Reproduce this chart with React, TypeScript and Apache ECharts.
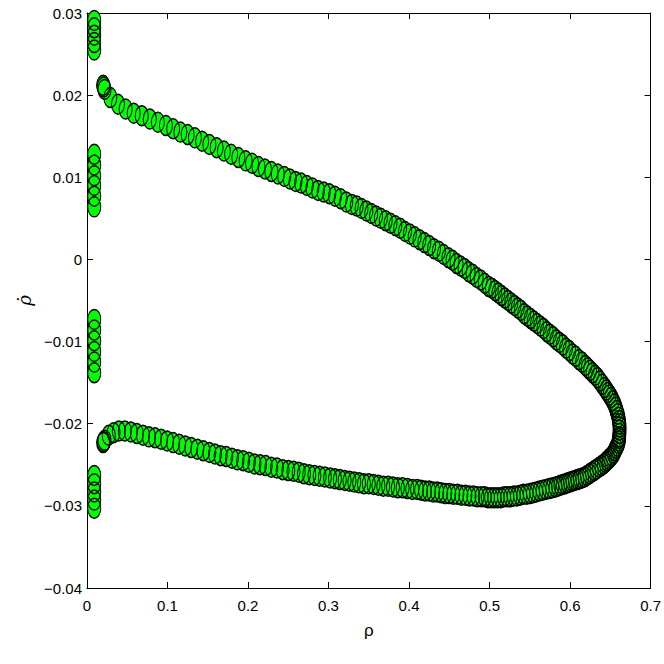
import { useEffect, useRef } from "react";
import * as echarts from "echarts";

// [rho, rhoDot] pairs
const upperBranch: number[][] = [
  [0.0200, 0.0212], [0.0208, 0.0210], [0.0218, 0.0207], [0.0290, 0.0197], [0.0385, 0.0189],
  [0.048, 0.0183], [0.058, 0.0178], [0.068, 0.0175], [0.078, 0.0171], [0.088, 0.0167], [0.098, 0.0163],
  [0.107, 0.0159], [0.116, 0.0155], [0.125, 0.0152], [0.134, 0.0148], [0.143, 0.0144], [0.152, 0.0140],
  [0.161, 0.0136], [0.170, 0.0132], [0.179, 0.0128], [0.188, 0.0124], [0.197, 0.0120],
  [0.205, 0.0117], [0.213, 0.0113], [0.221, 0.0110], [0.229, 0.0107], [0.237, 0.0104], [0.245, 0.0101],
  [0.252, 0.0098], [0.259, 0.0095], [0.266, 0.0093], [0.273, 0.0090], [0.280, 0.0087], [0.287, 0.0084],
  [0.294, 0.0082], [0.301, 0.0080], [0.308, 0.0077], [0.315, 0.0074], [0.322, 0.0070], [0.329, 0.0067],
  [0.335, 0.0065], [0.341, 0.0062], [0.347, 0.0059], [0.353, 0.0056], [0.359, 0.0053], [0.365, 0.0050],
  [0.371, 0.0047], [0.377, 0.0044], [0.383, 0.0041], [0.389, 0.0038], [0.395, 0.0034], [0.401, 0.0031],
  [0.407, 0.00275], [0.413, 0.0024], [0.419, 0.00205], [0.425, 0.0017], [0.431, 0.0013], [0.437, 0.0010],
  [0.443, 0.0006], [0.449, 0.0002],
  [0.454, -0.0001], [0.459, -0.0005], [0.464, -0.0008], [0.469, -0.0011], [0.474, -0.0015],
  [0.479, -0.0018], [0.484, -0.0022], [0.489, -0.0025], [0.494, -0.0029], [0.499, -0.0033],
  [0.503, -0.0035], [0.507, -0.0038], [0.511, -0.0041], [0.515, -0.0044], [0.519, -0.0047],
  [0.523, -0.0050], [0.527, -0.0053], [0.531, -0.0056], [0.535, -0.0059], [0.539, -0.0062],
  [0.543, -0.0066], [0.547, -0.0069], [0.551, -0.0072], [0.555, -0.0075], [0.559, -0.0078],
  [0.563, -0.0081], [0.567, -0.0084], [0.571, -0.0088], [0.575, -0.0091], [0.579, -0.0094],
  [0.583, -0.0098], [0.587, -0.0101], [0.591, -0.0104], [0.595, -0.0108], [0.599, -0.0111],
  [0.603, -0.0115], [0.607, -0.0118], [0.611, -0.0122], [0.615, -0.0125], [0.619, -0.0129],
  [0.622, -0.0132], [0.625, -0.0135], [0.628, -0.0138], [0.631, -0.0141], [0.634, -0.0144],
  [0.637, -0.0148], [0.640, -0.0152], [0.643, -0.0156],
  [0.645, -0.0159], [0.647, -0.0162], [0.649, -0.0165], [0.651, -0.0168], [0.653, -0.0172], [0.655, -0.0176],
  [0.6565, -0.0180], [0.6578, -0.0184], [0.6590, -0.0188], [0.6600, -0.0192], [0.6607, -0.0196],
  [0.6612, -0.0200], [0.6615, -0.0204], [0.6615, -0.0208], [0.6613, -0.0212], [0.6610, -0.0216],
];

const lowerBranch: number[][] = [
  [0.0200, -0.0223], [0.0208, -0.0222], [0.0218, -0.0220], [0.0270, -0.0214], [0.0330, -0.0211], [0.0395, -0.0209],
  [0.047, -0.0209], [0.0545, -0.0210], [0.062, -0.0212], [0.0695, -0.0214], [0.077, -0.0216], [0.0845, -0.0217],
  [0.092, -0.0219], [0.0995, -0.0221], [0.107, -0.0223], [0.1145, -0.0225], [0.122, -0.0227], [0.1295, -0.0229],
  [0.137, -0.0231], [0.1445, -0.0233], [0.152, -0.0235],
  [0.159, -0.0237], [0.166, -0.0239], [0.173, -0.0240], [0.180, -0.0242], [0.187, -0.0244], [0.194, -0.0245],
  [0.201, -0.0247], [0.208, -0.0249], [0.215, -0.0250], [0.222, -0.0251], [0.229, -0.0253], [0.236, -0.0254],
  [0.243, -0.0256], [0.250, -0.0257],
  [0.2565, -0.0258], [0.263, -0.0259], [0.2695, -0.0261], [0.276, -0.0262], [0.2825, -0.0263], [0.289, -0.0264],
  [0.2955, -0.0265], [0.302, -0.0266],
  [0.308, -0.0267], [0.314, -0.0268], [0.320, -0.0269], [0.326, -0.0270], [0.332, -0.0271], [0.338, -0.0272],
  [0.344, -0.0273], [0.350, -0.0273], [0.356, -0.0274], [0.362, -0.0275], [0.368, -0.0276], [0.374, -0.0276],
  [0.380, -0.0277], [0.386, -0.0278], [0.392, -0.0278], [0.398, -0.0279], [0.404, -0.0280], [0.410, -0.0280],
  [0.415, -0.0281], [0.420, -0.0282], [0.425, -0.0282], [0.430, -0.0283], [0.435, -0.0283], [0.440, -0.0284],
  [0.445, -0.0285], [0.450, -0.0285], [0.455, -0.0286], [0.460, -0.0286], [0.465, -0.0287], [0.470, -0.0287],
  [0.475, -0.0288], [0.480, -0.0288], [0.485, -0.0289], [0.490, -0.0289],
  [0.494, -0.0289], [0.498, -0.0290], [0.502, -0.0290], [0.506, -0.0290], [0.510, -0.0290], [0.514, -0.0290],
  [0.518, -0.0289], [0.522, -0.0289], [0.526, -0.0289], [0.530, -0.0288], [0.534, -0.0288], [0.538, -0.0287],
  [0.542, -0.0286], [0.546, -0.0286], [0.550, -0.0285], [0.554, -0.0284], [0.558, -0.0283], [0.562, -0.0282],
  [0.566, -0.0281], [0.570, -0.0280], [0.574, -0.0279], [0.578, -0.0278], [0.582, -0.0277],
  [0.585, -0.0276], [0.588, -0.0275], [0.591, -0.0274], [0.594, -0.0273], [0.597, -0.0272], [0.600, -0.0271],
  [0.603, -0.0270], [0.606, -0.0269], [0.609, -0.0268], [0.612, -0.0267], [0.615, -0.0266], [0.618, -0.0265],
  [0.621, -0.0263], [0.624, -0.0261], [0.627, -0.0259], [0.630, -0.0257], [0.633, -0.0255], [0.636, -0.0253],
  [0.639, -0.0251], [0.642, -0.0249],
  [0.644, -0.0247], [0.646, -0.0245], [0.648, -0.0243], [0.650, -0.0241], [0.652, -0.0239], [0.654, -0.0236],
  [0.6555, -0.0233], [0.657, -0.0230], [0.6585, -0.0227], [0.6597, -0.0224], [0.6605, -0.0221], [0.6610, -0.0218],
];

const leftClusters: number[][] = [
  [0.009, 0.0291], [0.009, 0.0282], [0.009, 0.0273], [0.009, 0.0264], [0.009, 0.0255],
  [0.009, 0.0128], [0.009, 0.0115], [0.009, 0.0102], [0.009, 0.0090], [0.009, 0.0077], [0.009, 0.0064],
  [0.009, -0.0073], [0.009, -0.0086], [0.009, -0.0099], [0.009, -0.0112], [0.009, -0.0125], [0.009, -0.0138],
  [0.009, -0.0263], [0.009, -0.0273], [0.009, -0.0283], [0.009, -0.0293], [0.009, -0.0303],
];

const xTickLabels = ["0", "0.1", "0.2", "0.3", "0.4", "0.5", "0.6", "0.7"];
const yTickLabels = ["\u22120.04", "\u22120.03", "\u22120.02", "\u22120.01", "0", "0.01", "0.02", "0.03"];

const FONT = "'Liberation Sans', Arial, sans-serif";
const ELLIPSE =
  "path://M0,-1 C0.5523,-1 1,-0.5523 1,0 C1,0.5523 0.5523,1 0,1 C-0.5523,1 -1,0.5523 -1,0 C-1,-0.5523 -0.5523,-1 0,-1 Z";

export default function App() {
  const ref = useRef<HTMLDivElement>(null);
  useEffect(() => {
    if (!ref.current) return;
    const chart = echarts.init(ref.current, undefined, { renderer: "svg" });
    const xLabel = (v: number) => xTickLabels[Math.round(v * 10)] ?? "";
    const yLabel = (v: number) => yTickLabels[Math.round(v * 100) + 4] ?? "";
    const axisLine = { show: true, onZero: false, lineStyle: { color: "#000", width: 1 } };
    const tick = { show: true, inside: true, length: 6, lineStyle: { color: "#000", width: 1 } };
    const fillSeries = (data: number[][]) => ({
      type: "scatter",
      data,
      symbol: ELLIPSE,
      symbolSize: [13, 20],
      clip: false,
      itemStyle: { color: "#00ff00", borderWidth: 0, opacity: 1 },
      emphasis: { disabled: true },
    });
    const edgeSeries = (data: number[][]) => ({
      type: "scatter",
      data,
      symbol: ELLIPSE,
      symbolSize: [13, 20],
      clip: false,
      itemStyle: { color: "rgba(0,0,0,0)", borderColor: "#000", borderWidth: 1.2, opacity: 1 },
      emphasis: { disabled: true },
    });
    chart.setOption({
      animation: false,
      backgroundColor: "#fff",
      grid: { left: 87, right: 11, top: 13, bottom: 76, containLabel: false },
      xAxis: [
        {
          type: "value",
          min: 0,
          max: 0.7,
          interval: 0.1,
          position: "bottom",
          name: "\u03c1",
          nameLocation: "middle",
          nameGap: 34,
          nameTextStyle: { fontFamily: FONT, fontSize: 17, color: "#000" },
          axisLine,
          axisTick: tick,
          splitLine: { show: false },
          axisLabel: { formatter: xLabel, fontFamily: FONT, fontSize: 15, color: "#000", margin: 10 },
        },
        {
          type: "value",
          min: 0,
          max: 0.7,
          interval: 0.1,
          position: "top",
          axisLine,
          axisTick: tick,
          splitLine: { show: false },
          axisLabel: { show: false },
        },
      ],
      yAxis: [
        {
          type: "value",
          min: -0.04,
          max: 0.03,
          interval: 0.01,
          position: "left",
          name: "\u03c1\u0307",
          nameLocation: "middle",
          nameRotate: 90,
          nameGap: 41,
          nameTextStyle: { fontFamily: "'DejaVu Serif', serif", fontStyle: "italic", fontSize: 18, color: "#000" },
          axisLine,
          axisTick: tick,
          splitLine: { show: false },
          axisLabel: { formatter: yLabel, fontFamily: FONT, fontSize: 15, color: "#000", margin: 5 },
        },
        {
          type: "value",
          min: -0.04,
          max: 0.03,
          interval: 0.01,
          position: "right",
          axisLine,
          axisTick: tick,
          splitLine: { show: false },
          axisLabel: { show: false },
        },
      ],
      series: [
        fillSeries(leftClusters),
        fillSeries(upperBranch),
        fillSeries(lowerBranch),
        edgeSeries(leftClusters),
        edgeSeries(upperBranch),
        edgeSeries(lowerBranch),
      ],
    });
    return () => chart.dispose();
  }, []);
  return (
    <div
      ref={ref}
      style={{ position: "absolute", left: 0, top: 0, width: 664, height: 664, background: "#fff" }}
    />
  );
}
